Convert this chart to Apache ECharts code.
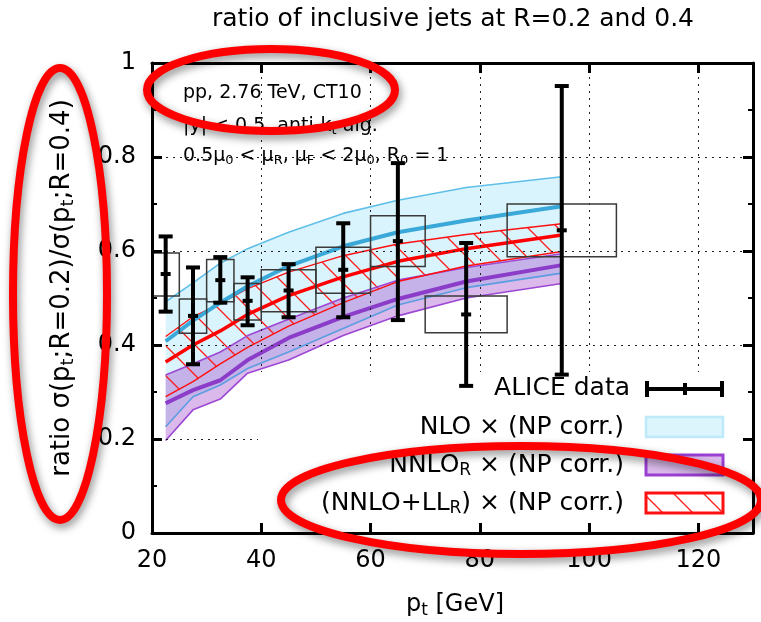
<!DOCTYPE html>
<html>
<head>
<meta charset="utf-8">
<script src="https://cdn.jsdelivr.net/npm/echarts@6/dist/echarts.min.js"></script>
<style>
  html, body { margin: 0; padding: 0; background: #ffffff; }
  #chart { width: 761px; height: 622px; }
</style>
</head>
<body>
<div id="chart"></div>
<script>
// Theory predictions, evaluated at the bin centres (pt in GeV)
const ptNodes = [22.5, 27.5, 32.5, 37.5, 45, 55, 65, 77.5, 95];
const nloHigh    = [0.492, 0.532, 0.574, 0.605, 0.640, 0.680, 0.708, 0.735, 0.758];
const nloCentral = [0.408, 0.452, 0.490, 0.525, 0.568, 0.610, 0.640, 0.665, 0.695];
const nloLow     = [0.226, 0.290, 0.315, 0.350, 0.385, 0.435, 0.485, 0.522, 0.553];
const nnloHigh    = [0.336, 0.360, 0.385, 0.420, 0.455, 0.500, 0.538, 0.565, 0.594];
const nnloCentral = [0.276, 0.304, 0.325, 0.368, 0.415, 0.460, 0.498, 0.535, 0.570];
const nnloLow     = [0.197, 0.262, 0.285, 0.340, 0.368, 0.420, 0.462, 0.500, 0.531];
const resumHigh    = [0.418, 0.460, 0.488, 0.520, 0.555, 0.590, 0.615, 0.635, 0.658];
const resumCentral = [0.364, 0.400, 0.430, 0.465, 0.505, 0.545, 0.578, 0.605, 0.634];
const resumLow     = [0.290, 0.322, 0.360, 0.395, 0.440, 0.490, 0.535, 0.568, 0.599];

// ALICE measurement: points, statistical errors and systematic boxes
const aliceX       = [22.5, 27.5, 32.5, 37.5, 45, 55, 65, 77.5, 95];
const aliceBinLow  = [20, 25, 30, 35, 40, 50, 60, 70, 85];
const aliceBinHigh = [25, 30, 35, 40, 50, 60, 70, 85, 105];
const aliceValue   = [0.551, 0.462, 0.538, 0.494, 0.516, 0.560, 0.621, 0.465, 0.644];
const aliceStatLow = [0.471, 0.359, 0.490, 0.442, 0.459, 0.459, 0.453, 0.313, 0.337];
const aliceStatHigh= [0.631, 0.565, 0.587, 0.544, 0.572, 0.659, 0.787, 0.617, 0.951];
const aliceSysLow  = [0.504, 0.425, 0.492, 0.453, 0.471, 0.510, 0.567, 0.426, 0.588];
const aliceSysHigh = [0.596, 0.498, 0.582, 0.531, 0.560, 0.608, 0.675, 0.504, 0.700];

// Axis ranges and tick labels
const xRange = [20, 130];
const xStep = 20;
const xTickLabels = ['20', '40', '60', '80', '100', '120'];
const yRange = [0, 1];
const yStep = 0.2;
const yTickLabels = ['0', '0.2', '0.4', '0.6', '0.8', '1'];

const FONT = 'DejaVu Sans';
const FS = 24;
const KEY_FS = 25;

// Diagonal red hatching used for the resummed band
const hatch = document.createElement('canvas');
const HS = 30;
hatch.width = HS; hatch.height = HS;
(function () {
  const g = hatch.getContext('2d');
  g.strokeStyle = '#ff1a1a';
  g.lineWidth = 1.3;
  g.beginPath();
  g.moveTo(-2, -2); g.lineTo(HS + 2, HS + 2);
  g.moveTo(-HS - 2, -2); g.lineTo(2, HS + 2);
  g.moveTo(HS - 2, -2); g.lineTo(2 * HS + 2, HS + 2);
  g.stroke();
})();
const hatchFill = { image: hatch, repeat: 'repeat' };

function bandSeries(name, low, high, fill, z) {
  return {
    type: 'custom', name: name, z: z, silent: true, clip: true,
    data: [[ptNodes[0], high[0]]],
    renderItem: function (params, api) {
      const pts = [];
      for (let i = 0; i < ptNodes.length; i++) pts.push(api.coord([ptNodes[i], high[i]]));
      for (let i = ptNodes.length - 1; i >= 0; i--) pts.push(api.coord([ptNodes[i], low[i]]));
      return { type: 'polygon', shape: { points: pts }, style: { fill: fill, stroke: null } };
    }
  };
}

function curveSeries(values, color, width, z) {
  return {
    type: 'line', silent: true, z: z, symbol: 'none', smooth: false,
    data: ptNodes.map(function (x, i) { return [x, values[i]]; }),
    lineStyle: { color: color, width: width }
  };
}

const aliceRows = aliceX.map(function (x, i) {
  return [x, aliceValue[i], aliceStatLow[i], aliceStatHigh[i], aliceSysLow[i], aliceSysHigh[i], aliceBinLow[i], aliceBinHigh[i]];
});

const sysBoxSeries = {
  type: 'custom', silent: true, z: 5, data: aliceRows,
  encode: { x: 0, y: 1 },
  renderItem: function (params, api) {
    const a = api.coord([api.value(6), api.value(5)]);
    const b = api.coord([api.value(7), api.value(4)]);
    return {
      type: 'rect',
      shape: { x: a[0], y: a[1], width: b[0] - a[0], height: b[1] - a[1] },
      style: { fill: null, stroke: '#3a3a3a', lineWidth: 1.5 }
    };
  }
};

const errorBarSeries = {
  type: 'custom', silent: true, z: 6, data: aliceRows,
  encode: { x: 0, y: 1 },
  renderItem: function (params, api) {
    const c = api.coord([api.value(0), api.value(1)]);
    const lo = api.coord([api.value(0), api.value(2)]);
    const hi = api.coord([api.value(0), api.value(3)]);
    const st = { stroke: '#000', lineWidth: 4 };
    return {
      type: 'group',
      children: [
        { type: 'line', shape: { x1: c[0], y1: lo[1], x2: c[0], y2: hi[1] }, style: st },
        { type: 'line', shape: { x1: c[0] - 7, y1: lo[1], x2: c[0] + 7, y2: lo[1] }, style: st },
        { type: 'line', shape: { x1: c[0] - 7, y1: hi[1], x2: c[0] + 7, y2: hi[1] }, style: st },
        { type: 'line', shape: { x1: c[0] - 5, y1: c[1], x2: c[0] + 5, y2: c[1] }, style: st }
      ]
    };
  }
};

function gridAxis(kind) {
  return {
    type: 'value', min: kind === 'x' ? xRange[0] : yRange[0], max: kind === 'x' ? xRange[1] : yRange[1],
    interval: kind === 'x' ? xStep : yStep, z: 3,
    axisLine: { show: false }, axisTick: { show: false }, axisLabel: { show: false },
    splitLine: { show: true, lineStyle: { color: '#222', width: 1, type: [2, 5] } }
  };
}

function frameAxis(kind, position, withLabels) {
  const isX = kind === 'x';
  const labels = isX ? xTickLabels : yTickLabels;
  const lo = isX ? xRange[0] : yRange[0];
  const step = isX ? xStep : yStep;
  return {
    type: 'value', position: position, z: 10,
    min: isX ? xRange[0] : yRange[0], max: isX ? xRange[1] : yRange[1], interval: step,
    axisLine: { show: true, onZero: false, lineStyle: { color: '#000', width: 3 } },
    axisTick: { show: true, inside: true, length: 10, lineStyle: { color: '#000', width: 3 } },
    minorTick: isX ? { show: false } : { show: true, splitNumber: 2, length: 5, lineStyle: { color: '#000', width: 2 } },
    splitLine: { show: false },
    axisLabel: {
      show: withLabels, color: '#000', fontFamily: FONT, fontSize: FS,
      margin: 16,
      formatter: function (v) {
        const k = Math.round((v - lo) / step);
        return Math.abs(lo + k * step - v) < 1e-6 && k < labels.length ? labels[k] : '';
      }
    }
  };
}

const subStyle = { fontFamily: FONT, fontSize: 17, padding: [12, 0, 0, 0], color: '#000' };
const smallSub = { fontFamily: FONT, fontSize: 13, padding: [10, 0, 0, 0], color: '#000' };
const ovalStyle = { fill: null, stroke: '#ff0000', lineWidth: 8, shadowBlur: 8, shadowColor: 'rgba(0,0,0,0.45)', shadowOffsetX: 2, shadowOffsetY: 4 };

const graphics = [
  // opaque key background
  { type: 'rect', z: 4, silent: true, shape: { x: 258, y: 372, width: 494, height: 160 }, style: { fill: '#ffffff' } },
  // key: ALICE data
  { type: 'text', z: 7, x: 630, y: 388, style: { text: 'ALICE data', fontFamily: FONT, fontSize: KEY_FS, fill: '#000', align: 'right', verticalAlign: 'middle' } },
  { type: 'line', z: 7, shape: { x1: 645, y1: 389, x2: 724, y2: 389 }, style: { stroke: '#000', lineWidth: 4 } },
  { type: 'line', z: 7, shape: { x1: 647, y1: 381, x2: 647, y2: 397 }, style: { stroke: '#000', lineWidth: 4 } },
  { type: 'line', z: 7, shape: { x1: 722, y1: 381, x2: 722, y2: 397 }, style: { stroke: '#000', lineWidth: 4 } },
  { type: 'line', z: 7, shape: { x1: 685, y1: 383, x2: 685, y2: 395 }, style: { stroke: '#000', lineWidth: 4 } },
  // key: NLO
  { type: 'text', z: 7, x: 624, y: 427, style: { text: 'NLO × (NP corr.)', fontFamily: FONT, fontSize: KEY_FS, fill: '#000', align: 'right', verticalAlign: 'middle' } },
  { type: 'rect', z: 7, shape: { x: 646, y: 417, width: 77, height: 20 }, style: { fill: '#dcf5fd', stroke: '#bde9f9', lineWidth: 2.5 } },
  // key: NNLO_R
  { type: 'text', z: 7, x: 624, y: 465, style: {
      text: 'NNLO{s|R} × (NP corr.)', fontFamily: FONT, fontSize: KEY_FS, fill: '#000', align: 'right', verticalAlign: 'middle',
      rich: { s: subStyle } } },
  { type: 'rect', z: 7, shape: { x: 646, y: 455, width: 77, height: 20 }, style: { fill: '#dcbbec', stroke: '#9b3fd2', lineWidth: 3 } },
  // key: NNLO+LL_R
  { type: 'text', z: 7, x: 624, y: 503, style: {
      text: '(NNLO+LL{s|R}) × (NP corr.)', fontFamily: FONT, fontSize: KEY_FS, fill: '#000', align: 'right', verticalAlign: 'middle',
      rich: { s: subStyle } } },
  { type: 'rect', z: 7, shape: { x: 646, y: 493, width: 77, height: 20 }, style: { fill: hatchFill, stroke: '#ff1010', lineWidth: 3 } },
  // title and axis titles
  { type: 'text', z: 7, x: 453, y: 19, style: { text: 'ratio of inclusive jets at R=0.2 and 0.4', fontFamily: FONT, fontSize: 25, fill: '#000', align: 'center', verticalAlign: 'middle' } },
  { type: 'text', z: 7, x: 455, y: 605, style: {
      text: 'p{s|t} [GeV]', fontFamily: FONT, fontSize: FS, fill: '#000', align: 'center', verticalAlign: 'middle',
      rich: { s: subStyle } } },
  { type: 'text', z: 7, x: 62, y: 288, rotation: Math.PI / 2, style: {
      text: 'ratio σ(p{s|t};R=0.2)/σ(p{s|t};R=0.4)', fontFamily: FONT, fontSize: 26, fill: '#000', align: 'center', verticalAlign: 'middle',
      rich: { s: { fontFamily: FONT, fontSize: 18, padding: [13, 0, 0, 0], color: '#000' } } } },
  // process description
  { type: 'text', z: 7, x: 183, y: 93, style: { text: 'pp, 2.76 TeV, CT10', fontFamily: FONT, fontSize: 19, fill: '#000', align: 'left', verticalAlign: 'middle' } },
  { type: 'text', z: 7, x: 183, y: 126, style: {
      text: '|y| < 0.5, anti-k{s|t} alg.', fontFamily: FONT, fontSize: 19, fill: '#000', align: 'left', verticalAlign: 'middle',
      rich: { s: smallSub } } },
  { type: 'text', z: 7, x: 183, y: 156, style: {
      text: '0.5μ{s|0} < μ{s|R}, μ{s|F} < 2μ{s|0}, R{s|0} = 1', fontFamily: FONT, fontSize: 19, fill: '#000', align: 'left', verticalAlign: 'middle',
      rich: { s: smallSub } } },
  // highlight ellipses
  { type: 'ellipse', z: 20, silent: true, shape: { cx: 271, cy: 90, rx: 124, ry: 41 }, style: ovalStyle },
  { type: 'ellipse', z: 20, silent: true, shape: { cx: 60, cy: 294, rx: 47, ry: 226 }, style: ovalStyle },
  { type: 'ellipse', z: 20, silent: true, shape: { cx: 521, cy: 500, rx: 240, ry: 54 }, style: ovalStyle }
];

const chart = echarts.init(document.getElementById('chart'), null, { renderer: 'canvas' });
chart.setOption({
  animation: false,
  backgroundColor: '#ffffff',
  grid: { left: 152, top: 63, width: 601, height: 470, outerBoundsMode: 'none', containLabel: false },
  xAxis: [gridAxis('x'), frameAxis('x', 'bottom', true), frameAxis('x', 'top', false)],
  yAxis: [gridAxis('y'), frameAxis('y', 'left', true), frameAxis('y', 'right', false)],
  series: [
    bandSeries('NLO', nloLow, nloHigh, '#d9f4fc', 1),
    bandSeries('NNLO_R', nnloLow, nnloHigh, 'rgba(166, 80, 205, 0.40)', 1),
    bandSeries('NNLO+LL_R', resumLow, resumHigh, hatchFill, 1),
    curveSeries(nloHigh, '#5fbfe8', 1.6, 2),
    curveSeries(nloLow, '#5c9de0', 1.6, 2),
    curveSeries(nnloHigh, '#9d48d4', 1.6, 2),
    curveSeries(nnloLow, '#9d48d4', 1.6, 2),
    curveSeries(resumHigh, '#ff1010', 1.4, 2),
    curveSeries(resumLow, '#ff1010', 1.4, 2),
    curveSeries(nloCentral, '#3aa8d8', 4, 2),
    curveSeries(nnloCentral, '#8b3cc8', 4, 2),
    curveSeries(resumCentral, '#ff0000', 3.5, 2),
    sysBoxSeries,
    errorBarSeries
  ],
  graphic: graphics
});
</script>
</body>
</html>
